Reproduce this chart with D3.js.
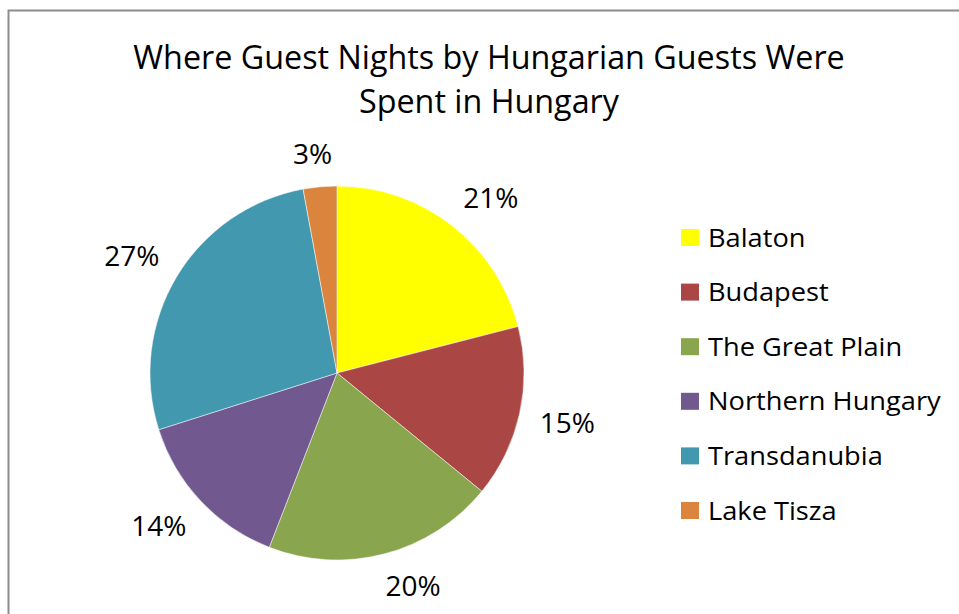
<!DOCTYPE html>
<html><head>
<meta charset="utf-8">
<script src="https://d3js.org/d3.v7.min.js"></script>
<style>
  body { margin: 0; background: #fff; }
  text { font-family: "Open Sans", sans-serif; fill: #000; }
</style>
</head>
<body>
<svg id="chart" width="959" height="614"></svg>
<script>
  // data
  const regions = ["Balaton", "Budapest", "The Great Plain", "Northern Hungary", "Transdanubia", "Lake Tisza"];
  const shares  = [21.0, 14.9, 20.0, 14.2, 27.0, 2.9];
  const labels  = ["21%", "15%", "20%", "14%", "27%", "3%"];
  const colors  = ["#ffff00", "#aa4643", "#89a54e", "#71588f", "#4198af", "#db843d"];
  const titleLines = ["Where Guest Nights by Hungarian Guests Were", "Spent in Hungary"];

  const svg = d3.select("#chart");

  // chart frame (right and bottom edges fall outside the picture)
  svg.append("rect")
    .attr("x", 8.5).attr("y", 10.5)
    .attr("width", 1000).attr("height", 700)
    .attr("fill", "none")
    .attr("stroke", "#8c8c8c")
    .attr("stroke-width", 2);

  svg.append("text")
    .attr("x", 489).attr("y", 69)
    .attr("text-anchor", "middle")
    .style("font-size", "32.3px")
    .selectAll("tspan").data(titleLines)
    .join("tspan")
      .attr("x", 489)
      .attr("dy", (d, i) => i ? 44 : 0)
      .text(d => d);

  const cx = 337, cy = 373, r = 187;
  const data = regions.map((name, i) => ({name, value: shares[i], label: labels[i], color: colors[i]}));

  const pie = d3.pie().sort(null).value(d => d.value);
  const arc = d3.arc().innerRadius(0).outerRadius(r);
  const arcs = pie(data);

  const g = svg.append("g").attr("transform", `translate(${cx},${cy})`);

  g.selectAll("path.slice").data(arcs)
    .join("path")
      .attr("class", "slice")
      .attr("d", arc)
      .attr("fill", d => d.data.color)
      .attr("stroke", "#fff")
      .attr("stroke-width", 0.5);

  // percent labels sit just outside the rim
  const clamp = t => Math.max(-1, Math.min(1, t));
  const pctSize = 28;
  g.selectAll("text.pct").data(arcs)
    .join("text")
      .attr("class", "pct")
      .attr("text-anchor", "middle")
      .style("font-size", pctSize + "px")
      .attr("transform", d => {
        const a = (d.startAngle + d.endAngle) / 2;
        const ux = Math.sin(a), uy = -Math.cos(a);
        const hw = d.data.label.length * 8.4;
        const x = ux * (r + 23) + hw * clamp(ux * 3.5);
        const y = uy * (r + 26) + 7 * clamp(uy * 3) + pctSize * 0.357;
        return `translate(${x},${y})`;
      })
      .text(d => d.data.label);

  // legend
  const legend = svg.append("g").attr("transform", "translate(681,229)");
  const rows = legend.selectAll("g").data(data)
    .join("g")
      .attr("transform", (d, i) => `translate(0,${i * 54.6})`);

  rows.append("rect")
    .attr("width", 18).attr("height", 17)
    .attr("fill", d => d.color);

  rows.append("text")
    .attr("transform", "translate(27,17.5) scale(1.09,1)")
    .style("font-size", "25px")
    .text(d => d.name);
</script>
</body>
</html>
